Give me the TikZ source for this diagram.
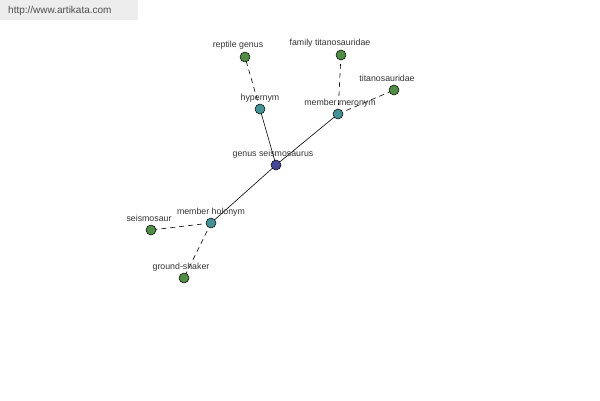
\documentclass[tikz,border=0pt]{standalone}
\usepackage{fontspec}
\setmainfont{Liberation Sans}
\definecolor{ngreen}{RGB}{80,140,70}
\definecolor{nteal}{RGB}{70,145,150}
\definecolor{nblue}{RGB}{70,70,150}
\begin{document}
\begin{tikzpicture}[x=1pt,y=-1pt,
  dot/.style={circle,draw=black,line width=0.5pt,minimum size=10pt,inner sep=0pt},
  gdot/.style={dot,fill=ngreen},
  tdot/.style={dot,fill=nteal},
  bdot/.style={dot,fill=nblue},
  lbl/.style={font=\fontsize{8.8}{10}\selectfont,text=black!80,inner sep=0pt},
  rel/.style={line width=0.6pt},
  drel/.style={line width=0.6pt,dash pattern=on 5pt off 4pt}]
\useasboundingbox (0,0) rectangle (600,400);
\fill[black!7] (0,0) rectangle (138,20);
\node[font=\fontsize{10}{12}\selectfont,text=black!70,anchor=west,inner sep=0pt] (wm) at (8,11) {http://www.artikata.com};
% nodes
\coordinate (g) at (276,165);
\coordinate (hy) at (260,109);
\coordinate (rg) at (245,57);
\coordinate (mm) at (338,114);
\coordinate (ft) at (341,55);
\coordinate (ti) at (394,90);
\coordinate (mh) at (211,223);
\coordinate (se) at (151,230);
\coordinate (gs) at (184,278);
% edges
\draw[rel] (g) -- (hy);
\draw[rel] (g) -- (mm);
\draw[rel] (g) -- (mh);
\draw[drel] (hy) -- (rg);
\draw[drel] (mm) -- (ft);
\draw[drel] (mm) -- (ti);
\draw[drel] (mh) -- (se);
\draw[drel] (mh) -- (gs);
% dots
\node[bdot] (ng) at (g) {};
\node[tdot] (nhy) at (hy) {};
\node[gdot] (nrg) at (rg) {};
\node[tdot] (nmm) at (mm) {};
\node[gdot] (nft) at (ft) {};
\node[gdot] (nti) at (ti) {};
\node[tdot] (nmh) at (mh) {};
\node[gdot] (nse) at (se) {};
\node[gdot] (ngs) at (gs) {};
% labels
\node[lbl] (lg) at (273,154) {genus seismosaurus};
\node[lbl] (lhy) at (260,98) {hypernym};
\node[lbl] (lrg) at (238,45) {reptile genus};
\node[lbl] (lmm) at (340,103) {member meronym};
\node[lbl] (lft) at (330,43) {family titanosauridae};
\node[lbl] (lti) at (387,78) {titanosauridae};
\node[lbl] (lmh) at (211,212) {member holonym};
\node[lbl] (lse) at (149,218) {seismosaur};
\node[lbl] (lgs) at (181,267) {ground-shaker};
\end{tikzpicture}
\end{document}
